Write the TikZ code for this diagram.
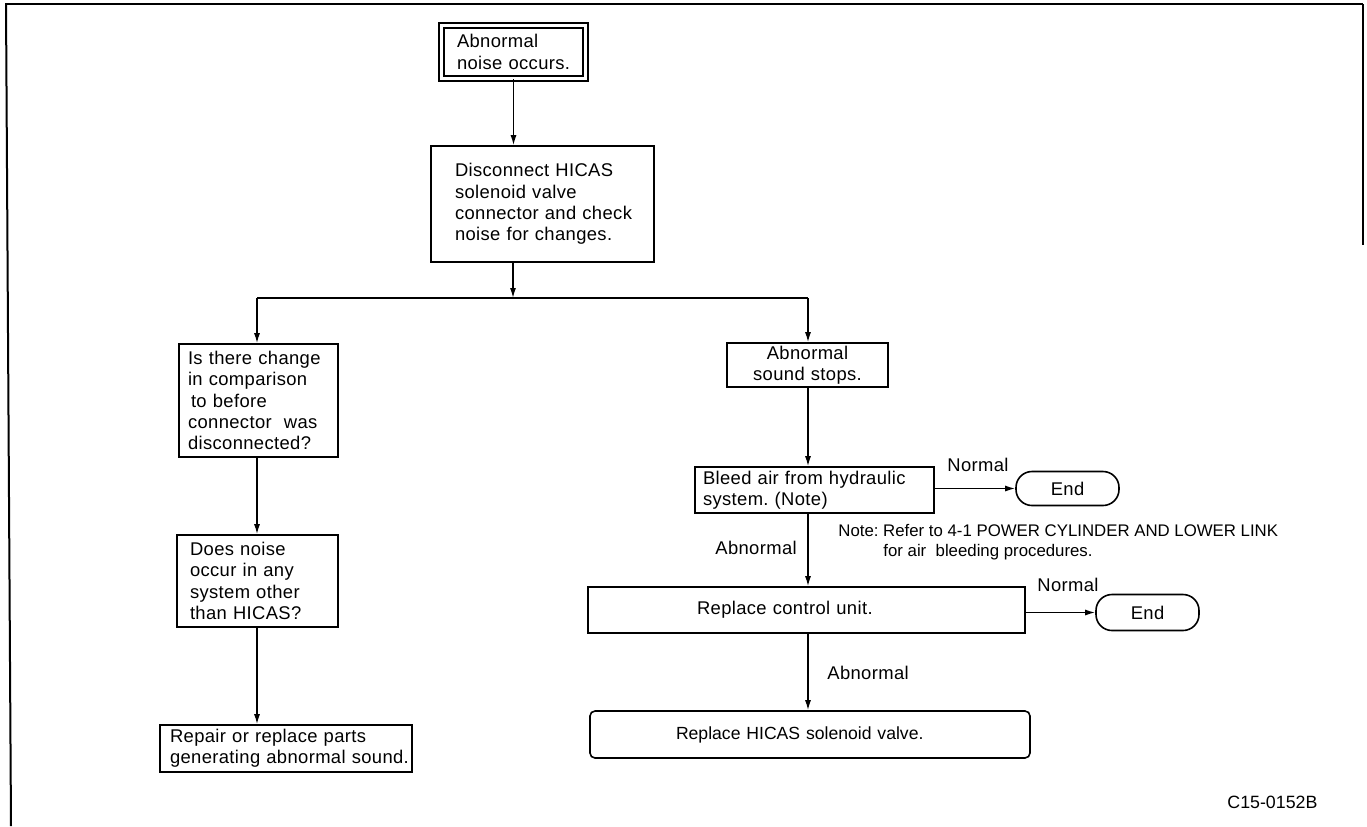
\documentclass[tikz,border=0pt]{standalone}
\usepackage{fontspec}
\setmainfont[LetterSpace=2]{Liberation Sans}
\newfontfamily\narrowfont{Liberation Sans}
\usetikzlibrary{arrows.meta}
\hyphenpenalty=10000
\exhyphenpenalty=10000
\frenchspacing
\begin{document}
\frenchspacing
\begin{tikzpicture}[x=0.5pt,y=-0.5pt,
  font=\fontsize{9.2}{10.6}\selectfont,
  box/.style={draw, line width=0.8pt, align=left, inner ysep=0pt, anchor=center},
  endbox/.style={draw, line width=0.8pt, rounded corners=8pt, inner sep=0pt,
    minimum width=51.5pt, minimum height=17pt, anchor=center},
  lbl/.style={inner sep=0pt, anchor=west},
  conn/.style={line width=0.7pt},
  arr/.style={line width=0.7pt, -{Latex[length=5pt,width=3pt]}},
  frame/.style={line width=1pt}
]
\useasboundingbox (0,0) rectangle (1367,826);
% frame
\draw[frame] (5,4) -- (1363,4);
\draw[frame] (6,4) -- (11,826);
\draw[frame] (1363,4) -- (1363,245);

% nodes
\node[box, double, line width=0.7pt, double distance=1.8pt,
  text width=56.5pt, inner xsep=7.75pt, minimum height=26.5pt] (b1) at (513.5,52)
  {\mbox{Abnormal}\\\mbox{noise occurs.}};
\node[box, text width=87.5pt, inner xsep=12pt, minimum height=58pt] (b2) at (542.5,204)
  {\mbox{Disconnect HICAS}\\\mbox{solenoid valve}\\\mbox{connector and check}\\\mbox{noise for changes.}};
\node[box, text width=70.5pt, inner xsep=4.5pt, minimum height=56.5pt] (q1) at (258.5,400.5)
  {\mbox{Is there change}\\\mbox{in comparison}\\\mbox{\hspace*{1.5pt}to before}\\\mbox{connector\ \ was}\\\mbox{disconnected?}};
\node[box, text width=67.5pt, inner xsep=6.5pt, minimum height=46pt] (q2) at (257.5,581)
  {\mbox{Does noise}\\\mbox{occur in any}\\\mbox{system other}\\\mbox{than HICAS?}};
\node[box, text width=116pt, inner xsep=5pt, minimum height=23.5pt] (rp) at (286,748.5)
  {\mbox{Repair or replace parts}\\\mbox{generating abnormal sound.}};
\node[box, align=center, text width=72.5pt, inner xsep=4pt, minimum height=22pt] (st) at (807.5,365)
  {\mbox{Abnormal}\\\mbox{sound stops.}};
\node[box, text width=111.5pt, inner xsep=4pt, minimum height=23pt] (bl) at (814.5,490)
  {\mbox{Bleed air from hydraulic}\\\mbox{system. (Note)}};
\node[box, text width=109.5pt, inner xsep=54.5pt, minimum height=23pt] (rc) at (806.5,610)
  {\mbox{Replace control unit.}};
\node[box, rounded corners=2.5pt, text width=134pt, inner xsep=43pt, minimum height=23.5pt,
  font=\narrowfont\fontsize{8.8}{10.5}\selectfont] (hv) at (810,734.5)
  {\mbox{Replace HICAS solenoid valve.}};
\node[endbox] (e1) at (1067.5,488.5) {End};
\node[endbox, minimum height=18pt] (e2) at (1147.5,612.5) {End};

% labels
\node[lbl] (n1) at (947,465) {Normal};
\node[lbl] (n2) at (1037,585) {Normal};
\node[lbl] (a1) at (715,548) {Abnormal};
\node[lbl] (a2) at (827,673) {Abnormal};
\node[lbl, align=left, font=\narrowfont\fontsize{8.4}{10}\selectfont] (note) at (838,542)
  {\mbox{Note: Refer to 4-1 POWER CYLINDER AND LOWER LINK}\\\mbox{\hspace*{22.5pt}for air\ \ bleeding procedures.}};
\node[lbl, font=\narrowfont\fontsize{8.9}{10.5}\selectfont] (code) at (1227,802) {C15-0152B};

% connectors
\coordinate (j) at (513,298);
\coordinate (jl) at (257,298);
\coordinate (jr) at (808,298);
\draw[arr] (b1.south) -- (b1.south |- b2.north);
\draw[arr] (j |- b2.south) -- (j);
\draw[conn] (jl) -- (jr);
\draw[arr] (jl) -- (jl |- q1.north);
\draw[arr] (jr) -- (jr |- st.north);
\draw[arr] (jl |- q1.south) -- (jl |- q2.north);
\draw[arr] (jl |- q2.south) -- (jl |- rp.north);
\draw[arr] (jr |- st.south) -- (jr |- bl.north);
\draw[arr] (jr |- bl.south) -- (jr |- rc.north);
\draw[arr] (jr |- rc.south) -- (jr |- hv.north);
\draw[arr] (bl.east |- e1) -- (e1.west);
\draw[arr] (rc.east |- e2) -- (e2.west);
\end{tikzpicture}
\end{document}
